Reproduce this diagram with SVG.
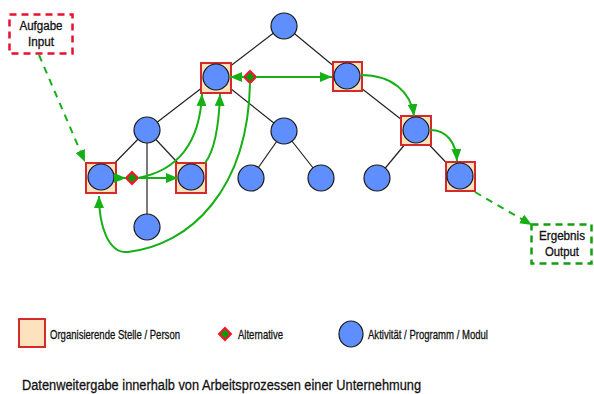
<svg xmlns="http://www.w3.org/2000/svg" width="594" height="394" viewBox="0 0 594 394">
<style>
.edge{stroke:#222;stroke-width:1.2;fill:none}
.act{fill:#5f8fff;stroke:#1a1a1a;stroke-width:1.2}
.org{fill:#fde3bd;stroke:#d42a2a;stroke-width:2}
.alt{fill:#0a9a0a;stroke:#ff1030;stroke-width:2}
.flow{stroke:#16b016;stroke-width:2;fill:none;marker-end:url(#ah)}
.dash{stroke-dasharray:7,6}
.t{font-family:"Liberation Sans Narrow","Liberation Sans",Arial,sans-serif;fill:#111;stroke:#111;stroke-width:0.3}
</style>
<defs>
<marker id="ah" viewBox="0 0 12 10" refX="12" refY="5" markerWidth="12" markerHeight="10" markerUnits="userSpaceOnUse" orient="auto">
<path d="M0,0 L12,5 L0,10 z" fill="#16b016"/>
</marker>
</defs>
<rect width="594" height="394" fill="#fff"/>
<g id="tree-edges">
<line class="edge" x1="284" y1="25" x2="216" y2="77"/>
<line class="edge" x1="284" y1="25" x2="347" y2="77"/>
<line class="edge" x1="216" y1="77" x2="147" y2="130"/>
<line class="edge" x1="216" y1="77" x2="284" y2="131"/>
<line class="edge" x1="147" y1="130" x2="101" y2="177"/>
<line class="edge" x1="147" y1="130" x2="191" y2="177"/>
<line class="edge" x1="147" y1="130" x2="147" y2="227"/>
<line class="edge" x1="284" y1="131" x2="251" y2="178"/>
<line class="edge" x1="284" y1="131" x2="321" y2="178"/>
<line class="edge" x1="347" y1="77" x2="416" y2="131"/>
<line class="edge" x1="416" y1="131" x2="377" y2="178"/>
<line class="edge" x1="416" y1="131" x2="460" y2="177"/>
</g>
<g id="n-top"><circle class="act" cx="284" cy="26" r="13"/></g>
<g id="n-A"><rect class="org" x="201" y="63" width="30" height="30"/><circle class="act" cx="216" cy="77" r="13"/></g>
<g id="n-B"><rect class="org" x="333" y="62" width="29" height="29"/><circle class="act" cx="347" cy="76" r="13"/></g>
<g id="n-L1"><circle class="act" cx="147" cy="130" r="13"/></g>
<g id="n-M1"><circle class="act" cx="284" cy="131" r="13"/></g>
<g id="n-E"><rect class="org" x="86" y="163" width="30" height="30"/><circle class="act" cx="101" cy="177" r="13"/></g>
<g id="n-F"><rect class="org" x="176" y="163" width="30" height="30"/><circle class="act" cx="191" cy="177" r="13"/></g>
<g id="n-L2"><circle class="act" cx="147" cy="227" r="13"/></g>
<g id="n-M2"><circle class="act" cx="251" cy="178" r="13"/></g>
<g id="n-M3"><circle class="act" cx="321" cy="178" r="13"/></g>
<g id="n-C"><rect class="org" x="401" y="116" width="30" height="29"/><circle class="act" cx="416" cy="130" r="13"/></g>
<g id="n-R1"><circle class="act" cx="377" cy="178" r="13"/></g>
<g id="n-D"><rect class="org" x="446" y="162" width="29" height="29"/><circle class="act" cx="460" cy="176" r="13"/></g>
<g id="alt1"><path class="alt" d="M250,71 L256,77 L250,83 L244,77 z"/></g>
<g id="alt2"><path class="alt" d="M132,172 L138,178 L132,184 L126,178 z"/></g>
<g id="in-box">
<rect x="9.5" y="14.5" width="63" height="39" fill="none" stroke="#e8102e" stroke-width="2.5" stroke-dasharray="7,5"/>
<text class="t" x="41" y="29.5" font-size="12" text-anchor="middle" textLength="43" lengthAdjust="spacingAndGlyphs">Aufgabe</text>
<text class="t" x="41" y="45.5" font-size="12" text-anchor="middle" textLength="26" lengthAdjust="spacingAndGlyphs">Input</text>
</g>
<g id="out-box">
<rect x="531.5" y="224.5" width="60" height="39" fill="none" stroke="#10a010" stroke-width="2.5" stroke-dasharray="7,5"/>
<text class="t" x="562" y="240" font-size="12" text-anchor="middle" textLength="46" lengthAdjust="spacingAndGlyphs">Ergebnis</text>
<text class="t" x="562" y="256" font-size="12" text-anchor="middle" textLength="34" lengthAdjust="spacingAndGlyphs">Output</text>
</g>
<g id="connectors">
<path class="flow dash" d="M39 55 L85 162"/>
<path class="flow" d="M114 178 L126 178"/>
<path class="flow" d="M138 178 L178 178"/>
<path class="flow" d="M138 178 C180 170, 200 140, 202 94"/>
<path class="flow" d="M205 163 C215 150, 219 125, 220 94"/>
<path class="flow" d="M250 83 C248 190, 190 245, 128 252 C108 254, 99 225, 99 196"/>
<path class="flow" d="M244 77 L230 77"/>
<path class="flow" d="M256 77 L332 77"/>
<path class="flow" d="M361 75 C392 75, 411 92, 414 116"/>
<path class="flow" d="M430 130 C447 130, 456 143, 457 161"/>
<path class="flow dash" d="M475 192 L532 225"/>
</g>
<g id="legend">
<rect class="org" x="19" y="319" width="26" height="28"/>
<text class="t" x="50" y="339" font-size="13" textLength="130" lengthAdjust="spacingAndGlyphs">Organisierende Stelle / Person</text>
<path class="alt" d="M225,328 L231,334 L225,340 L219,334 z"/>
<text class="t" x="238" y="339" font-size="13" textLength="45" lengthAdjust="spacingAndGlyphs">Alternative</text>
<ellipse class="act" cx="351" cy="334" rx="12" ry="13"/>
<text class="t" x="368" y="339" font-size="13" textLength="120" lengthAdjust="spacingAndGlyphs">Aktivität / Programm / Modul</text>
</g>
<text class="t" x="22" y="390" font-size="15.5" textLength="399" lengthAdjust="spacingAndGlyphs">Datenweitergabe innerhalb von Arbeitsprozessen einer Unternehmung</text>
</svg>
